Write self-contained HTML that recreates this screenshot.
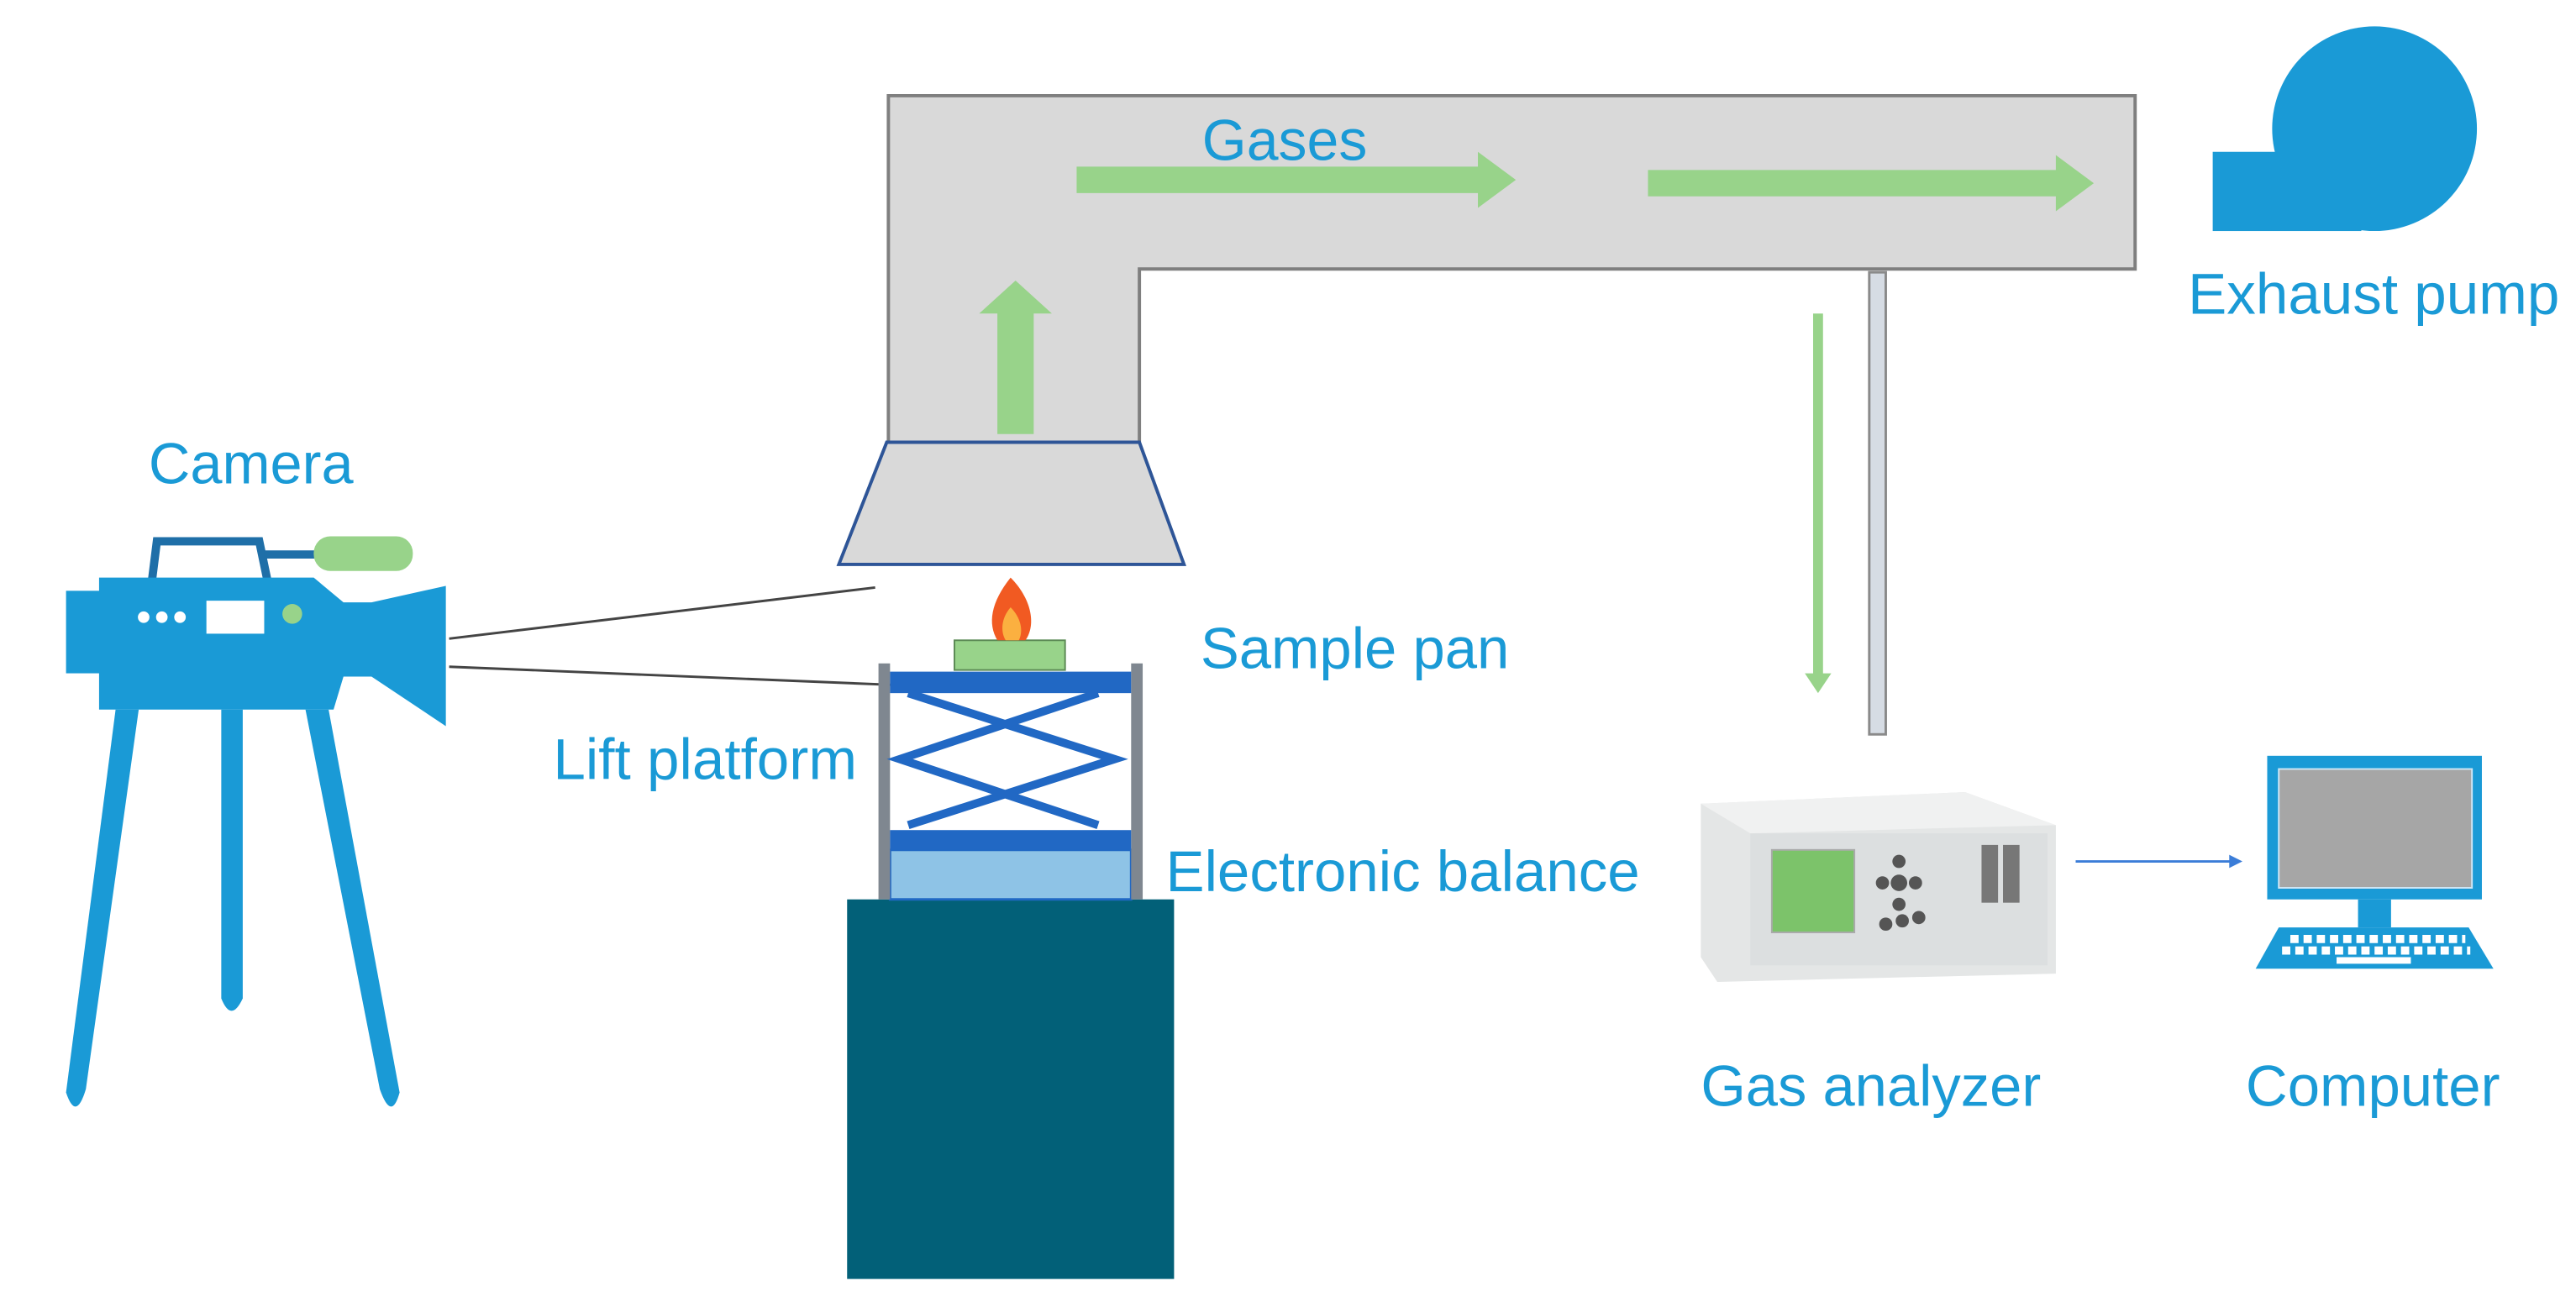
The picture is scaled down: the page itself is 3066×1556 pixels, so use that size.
<!DOCTYPE html>
<html><head><meta charset="utf-8"><style>html,body{margin:0;padding:0;background:#fff}svg{display:block}text{font-family:"Liberation Sans",Arial,sans-serif;fill:#1a9ad6;font-size:35px}</style></head>
<body>
<svg width="3066" height="1556" viewBox="0 0 1560 792" preserveAspectRatio="none" xmlns="http://www.w3.org/2000/svg">
<path d="M538,58 H1293 V163 H690 V268 H538 Z" fill="#d9d9d9" stroke="#7f7f7f" stroke-width="2"/>
<polygon points="537,268 690,268 717,342 508,342" fill="#d9d9d9" stroke="#2e5597" stroke-width="2"/>
<polygon points="604,263 626,263 626,190 637,190 615,170 593,190 604,190" fill="#98d38a"/>
<polygon points="652,101 895,101 895,92 918,109 895,126 895,117 652,117" fill="#98d38a"/>
<polygon points="998,103 1245,103 1245,94 1268,111 1245,128 1245,119 998,119" fill="#98d38a"/>
<text x="728" y="97" textLength="100" lengthAdjust="spacingAndGlyphs">Gases</text>
<ellipse cx="1438" cy="78" rx="62" ry="62" fill="#1a9ad6"/>
<rect x="1340" y="92" width="90" height="48" fill="#1a9ad6"/>
<text x="1325" y="190" textLength="225" lengthAdjust="spacingAndGlyphs">Exhaust pump</text>
<rect x="1132" y="165" width="10" height="280" fill="#d6dce4" stroke="#8a8a8a" stroke-width="1.5"/>
<rect x="1098" y="190" width="6" height="220" fill="#98d38a"/>
<polygon points="1093,408 1109,408 1101,420" fill="#98d38a"/>
<polygon points="1030,487 1190,480 1245,500 1245,590 1040,595 1030,580" fill="#e4e6e6"/>
<polygon points="1030,487 1190,480 1245,500 1060,505" fill="#f0f1f1"/>
<rect x="1060" y="505" width="180" height="80" fill="#dcdfe0"/>
<rect x="1073" y="515" width="50" height="50" fill="#7cc36a" stroke="#aaa"/>
<circle cx="1150" cy="535" r="5" fill="#555"/><circle cx="1140" cy="535" r="4" fill="#555"/><circle cx="1160" cy="535" r="4" fill="#555"/>
<circle cx="1150" cy="522" r="4" fill="#555"/><circle cx="1150" cy="548" r="4" fill="#555"/>
<circle cx="1142" cy="560" r="4" fill="#555"/><circle cx="1152" cy="558" r="4" fill="#555"/><circle cx="1162" cy="556" r="4" fill="#555"/>
<rect x="1200" y="512" width="10" height="35" fill="#777"/><rect x="1213" y="512" width="10" height="35" fill="#777"/>
<line x1="1257" y1="522" x2="1352" y2="522" stroke="#3b7dd8" stroke-width="1.5"/>
<polygon points="1350,518 1358,522 1350,526" fill="#3b7dd8"/>
<rect x="1373" y="458" width="130" height="87" fill="#1a9ad6"/>
<rect x="1380" y="466" width="117" height="72" fill="#a6a6a6" stroke="#cfe6f5" stroke-width="1"/>
<rect x="1428" y="545" width="20" height="17" fill="#1a9ad6"/>
<polygon points="1380,562 1495,562 1510,587 1366,587" fill="#1a9ad6"/>
<g stroke="#fff" stroke-width="5" stroke-dasharray="5,3">
<line x1="1387" y1="569" x2="1493" y2="569"/>
<line x1="1382" y1="576" x2="1496" y2="576"/>
</g>
<rect x="1415" y="580" width="45" height="4" fill="#fff"/>
<text x="1030" y="670" textLength="206" lengthAdjust="spacingAndGlyphs">Gas analyzer</text>
<text x="1360" y="670" textLength="154" lengthAdjust="spacingAndGlyphs">Computer</text>
<text x="90" y="293" textLength="124" lengthAdjust="spacingAndGlyphs">Camera</text>
<path d="M92,352 L95,328 H157 L162,352" fill="none" stroke="#1f6fa8" stroke-width="5"/>
<line x1="160" y1="336" x2="192" y2="336" stroke="#1f6fa8" stroke-width="5"/>
<rect x="190" y="325" width="60" height="21" rx="10" fill="#98d38a"/>
<rect x="40" y="358" width="25" height="50" fill="#1a9ad6"/>
<path d="M60,350 H190 L208,365 H225 L270,355 V440 L225,410 H208 L202,430 H60 Z" fill="#1a9ad6"/>
<circle cx="87" cy="374" r="3.5" fill="#fff"/><circle cx="98" cy="374" r="3.5" fill="#fff"/><circle cx="109" cy="374" r="3.5" fill="#fff"/>
<rect x="125" y="364" width="35" height="20" fill="#fff"/>
<circle cx="177" cy="372" r="6" fill="#98d38a"/>
<path d="M70,430 H84 L52,660 Q46,680 40,662 Z" fill="#1a9ad6"/>
<path d="M134,430 H147 V605 Q140,620 134,605 Z" fill="#1a9ad6"/>
<path d="M185,430 H199 L242,662 Q237,680 230,660 Z" fill="#1a9ad6"/>
<line x1="272" y1="387" x2="530" y2="356" stroke="#444" stroke-width="1.5"/>
<line x1="272" y1="404" x2="540" y2="415" stroke="#444" stroke-width="1.5"/>
<rect x="513" y="545" width="198" height="230" fill="#026078"/>
<rect x="539" y="515" width="146" height="30" fill="#8ec3e6" stroke="#2168c4" stroke-width="1.5"/>
<rect x="532" y="402" width="7" height="143" fill="#7f8790"/>
<rect x="685" y="402" width="7" height="143" fill="#7f8790"/>
<rect x="539" y="407" width="146" height="13" fill="#2168c4"/>
<rect x="539" y="503" width="146" height="12" fill="#2168c4"/>
<g stroke="#2168c4" stroke-width="5" fill="none">
<polyline points="550,420 675,460 550,500"/>
<polyline points="665,420 545,460 665,500"/>
</g>
<rect x="578" y="388" width="67" height="18" fill="#98d38a" stroke="#5c8a55" stroke-width="1"/>
<path d="M612,350 C600,365 598,378 604,388 H621 C628,378 624,362 612,350 Z" fill="#f15a22"/>
<path d="M612,368 C606,375 606,383 609,388 H617 C620,382 618,374 612,368 Z" fill="#fbb040"/>
<text x="727" y="405" textLength="187" lengthAdjust="spacingAndGlyphs">Sample pan</text>
<text x="335" y="472" textLength="184" lengthAdjust="spacingAndGlyphs">Lift platform</text>
<text x="706" y="540" textLength="287" lengthAdjust="spacingAndGlyphs">Electronic balance</text>
</svg>
</body></html>
